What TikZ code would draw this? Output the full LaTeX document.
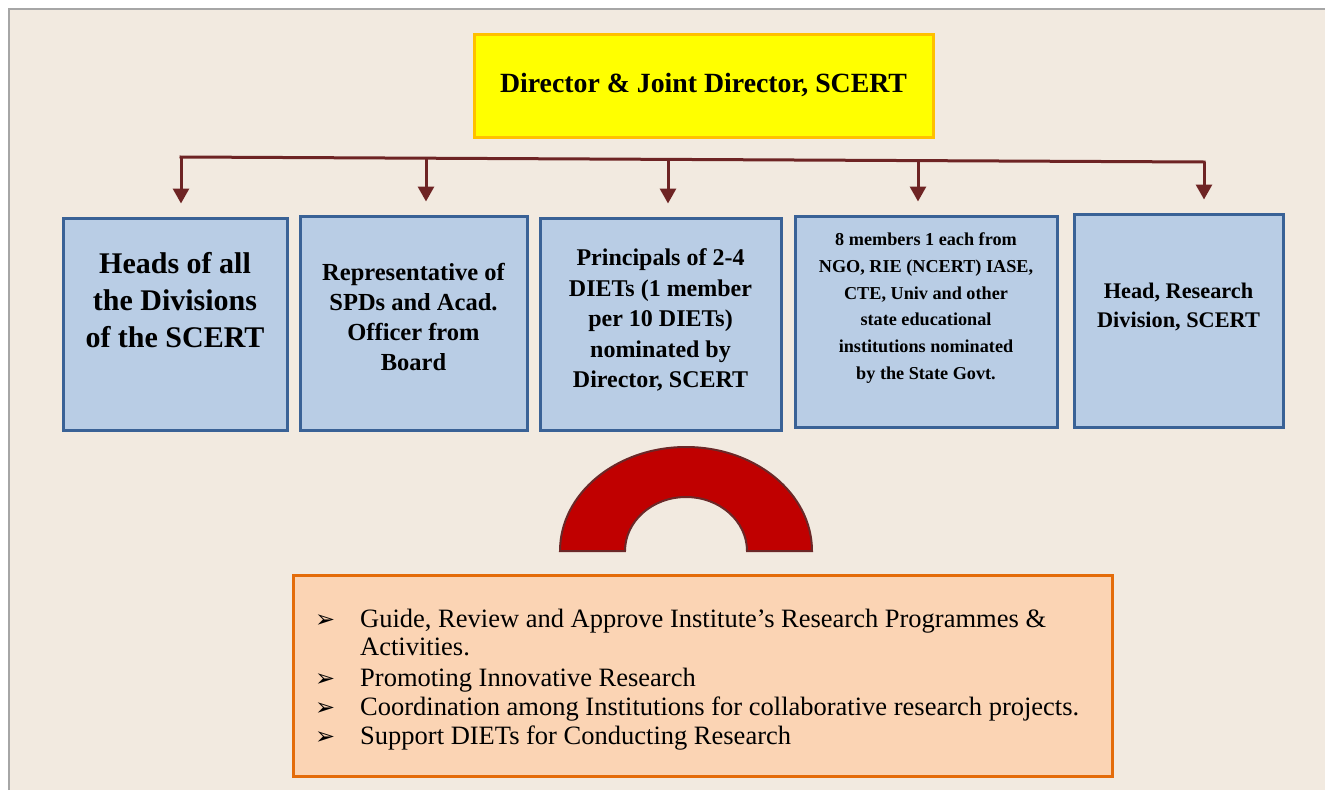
\documentclass[tikz,border=0pt]{standalone}
\usepackage{fontspec}
\setmainfont{Liberation Serif}
\newfontfamily\symfont{DejaVu Sans}
\usetikzlibrary{arrows.meta}
\definecolor{bgbeige}{HTML}{F2EAE0}
\definecolor{framegray}{HTML}{A6A6A6}
\definecolor{boxblue}{HTML}{B9CDE5}
\definecolor{boxedge}{HTML}{3A6296}
\definecolor{topfill}{HTML}{FFFF00}
\definecolor{topedge}{HTML}{FFC000}
\definecolor{linkred}{HTML}{6E2424}
\definecolor{archfill}{HTML}{C00000}
\definecolor{archedge}{HTML}{6B2828}
\definecolor{notefill}{HTML}{FBD4B4}
\definecolor{noteedge}{HTML}{E46C0A}
\tikzset{
  memberbox/.style={draw=boxedge, fill=boxblue, line width=3pt, inner sep=0pt},
  boxtext/.style={align=center, font=\bfseries, inner sep=0pt},
  link/.style={draw=linkred, line width=3pt},
  linkarrow/.style={link, -{Triangle[width=16pt,length=15pt]}, shorten >=13pt},
  bulletmark/.style={font=\symfont\fontsize{24}{26}\selectfont},
}
\begin{document}
\begin{tikzpicture}[x=1pt,y=-1pt]
\useasboundingbox (0,0) rectangle (1325,790);
\fill[white] (0,0) rectangle (1325,790);
\fill[bgbeige] (9,9) rectangle (1325,790);
\draw[framegray, line width=2.5pt] (9,790) -- (9,9) -- (1325,9);

% top box
\node[draw=topedge, fill=topfill, line width=3pt, minimum width=459pt, minimum height=103pt, inner sep=0pt,
      font=\bfseries\fontsize{27.8}{32}\selectfont] (top) at (703.5,85.5) {Director \& Joint Director, SCERT};

% member boxes
\node[memberbox, minimum width=224pt, minimum height=212pt] (b1) at (175,324) {};
\node[memberbox, minimum width=227pt, minimum height=214pt] (b2) at (413.5,323) {};
\node[memberbox, minimum width=241pt, minimum height=212pt] (b3) at (660.5,324) {};
\node[memberbox, minimum width=262pt, minimum height=211pt] (b4) at (926,321.5) {};
\node[memberbox, minimum width=209pt, minimum height=213pt] (b5) at (1178.5,320.5) {};

\node[boxtext, font=\bfseries\fontsize{30}{37}\selectfont] (t1) at (175,300)
  {Heads of all\\the Divisions\\of the SCERT};
\node[boxtext, font=\bfseries\fontsize{24.5}{30}\selectfont] (t2) at (413.5,317)
  {Representative of\\SPDs and Acad.\\Officer from\\Board};
\node[boxtext, font=\bfseries\fontsize{24}{30.5}\selectfont] (t3) at (660.5,320)
  {Principals of 2-4\\DIETs (1 member\\per 10 DIETs)\\nominated by\\Director, SCERT};
\node[boxtext, font=\bfseries\fontsize{18.2}{26.8}\selectfont] (t4) at (926,308)
  {8 members 1 each from\\NGO, RIE (NCERT) IASE,\\CTE, Univ and other\\state educational\\institutions nominated\\by the State Govt.};
\node[boxtext, font=\bfseries\fontsize{22.3}{29}\selectfont] (t5) at (1178.5,307)
  {Head, Research\\Division, SCERT};

% bus
\coordinate (j1) at (181,157);
\coordinate (j5) at (1204,162);
\coordinate (j2) at (426,158.2);
\coordinate (j3) at (668,159.4);
\coordinate (j4) at (918,160.6);
\draw[link, line cap=rect] (j1) -- (j5);
\draw[linkarrow] (j1) -- (j1 |- b1.north);
\draw[linkarrow] (j2) -- (j2 |- b2.north);
\draw[linkarrow] (j3) -- (j3 |- b3.north);
\draw[linkarrow] (j4) -- (j4 |- b4.north);
\draw[linkarrow] (j5) -- (j5 |- b5.north);

% arch
\draw[fill=archfill, draw=archedge, line width=2pt]
  (560,551) arc[start angle=180, end angle=0, x radius=126, y radius=-104]
  -- (747,551) arc[start angle=0, end angle=180, x radius=61, y radius=-54] -- cycle;

% note box
\node[draw=noteedge, fill=notefill, line width=3pt, minimum width=819pt, minimum height=201pt, inner sep=0pt] (note) at (702.5,675.5) {};
\begin{scope}[every node/.style={anchor=base west, inner sep=0pt, font=\fontsize{26.5}{30}\selectfont}]
\node[bulletmark] (m1) at (315,627) {➢};
\node (l1) at (360,627) {Guide, Review and Approve Institute’s Research Programmes \&};
\node (l1b) at (360,655) {Activities.};
\node[bulletmark] (m2) at (315,686) {➢};
\node (l2) at (360,686) {Promoting Innovative Research};
\node[bulletmark] (m3) at (315,715) {➢};
\node (l3) at (360,715) {Coordination among Institutions for collaborative research projects.};
\node[bulletmark] (m4) at (315,744) {➢};
\node (l4) at (360,744) {Support DIETs for Conducting Research};
\end{scope}
\end{tikzpicture}
\end{document}
